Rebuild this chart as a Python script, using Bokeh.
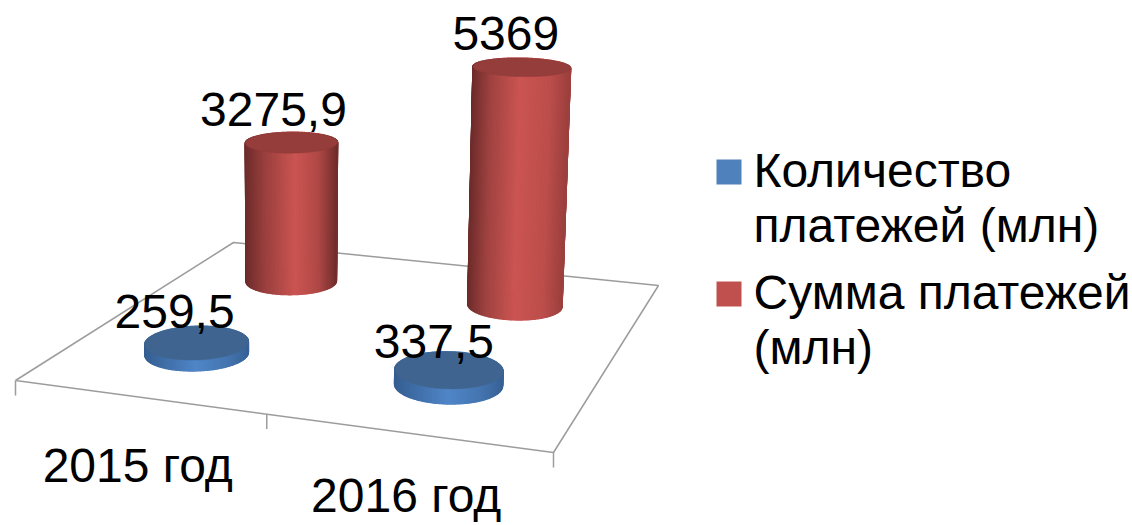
import numpy as np
from bokeh.plotting import figure
from bokeh.models import Range1d
from bokeh.core.properties import value
from bokeh.embed import file_html
from bokeh.resources import INLINE

categories = ["2015 год", "2016 год"]
series_names = ["Количество платежей (млн)", "Сумма платежей (млн)"]
count_values = [259.5, 337.5]
sum_values = [3275.9, 5369]
count_labels = ["259,5", "337,5"]
sum_labels = ["3275,9", "5369"]

FONT = value("Liberation Sans")
FS = "48px"
BASE_FIX = -18
FLOOR = [(15, 380), (553, 452), (658, 285), (233, 242)]  # front-left, front-right, back-right, back-left
TICK_U = [0, .493, 1]


def homography(q):
    src = [(0, 0), (1, 0), (1, 1), (0, 1)]
    A, b = [], []
    for (u, v), (x, y) in zip(src, q):
        A.append([u, v, 1, 0, 0, 0, -u * x, -v * x]); b.append(x)
        A.append([0, 0, 0, u, v, 1, -u * y, -v * y]); b.append(y)
    h = np.linalg.solve(np.array(A, float), np.array(b, float))
    return np.append(h, 1).reshape(3, 3)


H = homography(FLOOR)


def proj(u, v):
    w = H[2, 0] * u + H[2, 1] * v + H[2, 2]
    return ((H[0, 0] * u + H[0, 1] * v + H[0, 2]) / w,
            (H[1, 0] * u + H[1, 1] * v + H[1, 2]) / w)


def mix(stops, t):
    ps = [s[0] for s in stops]
    rgb = [np.interp(t, ps, [s[1][i] for s in stops]) for i in range(3)]
    return "#%02x%02x%02x" % tuple(int(round(c)) for c in rgb)


RED_L = [(0, (0x6c, 0x2c, 0x2b)), (.22, (0x9a, 0x40, 0x3e)), (.55, (0xcb, 0x55, 0x52)), (.8, (0xb0, 0x49, 0x46)), (1, (0x72, 0x2f, 0x2e))]
RED_R = [(0, (0x6c, 0x2c, 0x2b)), (.2, (0xa0, 0x43, 0x41)), (.5, (0xcb, 0x55, 0x52)), (.8, (0xbc, 0x4e, 0x4b)), (1, (0x9c, 0x41, 0x3f))]
BLUE = [(0, (0x35, 0x5e, 0x90)), (.25, (0x42, 0x72, 0xad)), (.5, (0x50, 0x86, 0xc8)), (.8, (0x45, 0x75, 0xb0)), (1, (0x38, 0x62, 0x96))]

p = figure(width=1132, height=525, output_backend="svg", toolbar_location=None,
           x_range=Range1d(0, 1132), y_range=Range1d(525, 0), min_border=0)
p.axis.visible = False
p.grid.visible = False
p.outline_line_color = None
p.background_fill_color = "white"

# floor
GRID = "#9c9c9c"
fx = [c[0] for c in FLOOR] + [FLOOR[0][0]]
fy = [c[1] for c in FLOOR] + [FLOOR[0][1]]
p.line(fx, fy, line_color=GRID, line_width=1.5)
for u in TICK_U:
    x, y = proj(u, 0)
    p.line([x, x], [y, y + 15], line_color=GRID, line_width=1.5)


def cylinder(cat, depth, du, val, stops, top_color):
    n = 200
    t = np.linspace(0, 2 * np.pi, n + 1)
    uc, vc = (cat + .5) / 2 + du, depth
    bx, by = proj(uc + .098 * np.cos(t), vc + .10 * np.sin(t))
    xmin, xmax = bx.min(), bx.max()
    cx, cy = (xmin + xmax) / 2, (by.min() + by.max()) / 2
    h = val * .0424 * (1 + .00021 * (cx - 292))
    lift_x = (cx - 280) * .000124 * h
    sx, sy = 1 + .00015 * h, 1 - .0015 * h
    tx = cx + lift_x + (bx - cx) * sx
    ty = cy - h + (by - cy) * sy
    order = sorted(range(n), key=lambda i: bx[i] + bx[i + 1])
    xs, ys, cols = [], [], []
    for i in order:
        xs.append([bx[i], bx[i + 1], tx[i + 1], tx[i]])
        ys.append([by[i], by[i + 1], ty[i + 1], ty[i]])
        f = ((bx[i] + bx[i + 1]) / 2 - xmin) / (xmax - xmin)
        cols.append(mix(stops, float(f)))
    base = mix(stops, .5)
    p.patch(bx, by, fill_color=base, line_color=None)
    p.patches(xs, ys, fill_color=cols, line_color=cols, line_width=1.2)
    p.patch(tx, ty, fill_color=top_color, line_color=top_color, line_width=.5)
    return cx + lift_x, cy - h


tops = {}
for j, v_ in enumerate(sum_values):
    tops[("s", j)] = cylinder(j, .755, -.008, v_, RED_L if j == 0 else RED_R, "#943d3b")
for j, v_ in enumerate(count_values):
    tops[("c", j)] = cylinder(j, .25, -.003, v_, BLUE, "#3f648f")


def label(x, y, s, align="left"):
    p.text([x], [y + BASE_FIX], text=[s], text_font=FONT, text_font_size=FS, text_color="black",
           text_align=align, text_baseline="alphabetic")


# data labels, anchored on the tops of the cylinders
LABEL_DX = {("s", 0): -18, ("s", 1): -16, ("c", 0): -22, ("c", 1): -15}
LABEL_DY = {("s", 0): -15, ("s", 1): -16, ("c", 0): -14, ("c", 1): -11}
for j in range(2):
    for key, labs in (("s", sum_labels), ("c", count_labels)):
        x, y = tops[(key, j)]
        label(x + LABEL_DX[(key, j)], y + LABEL_DY[(key, j)], labs[j], "center")

# category labels
CAT_DY = [86, 80]
for j, c in enumerate(categories):
    x, y = proj((j + .5) / 2, 0)
    label(x - 2, y + CAT_DY[j], c, "center")

# legend
p.quad(left=[716, 716], right=[741, 741], top=[159, 281], bottom=[184, 306],
       fill_color=["#4f81bd", "#c0504d"], line_color=None)
label(753, 188, "Количество")
label(753, 243, "платежей (млн)")
label(753, 310, "Сумма платежей")
label(753, 365, "(млн)")

open("out.html", "w").write(file_html(p, INLINE))
